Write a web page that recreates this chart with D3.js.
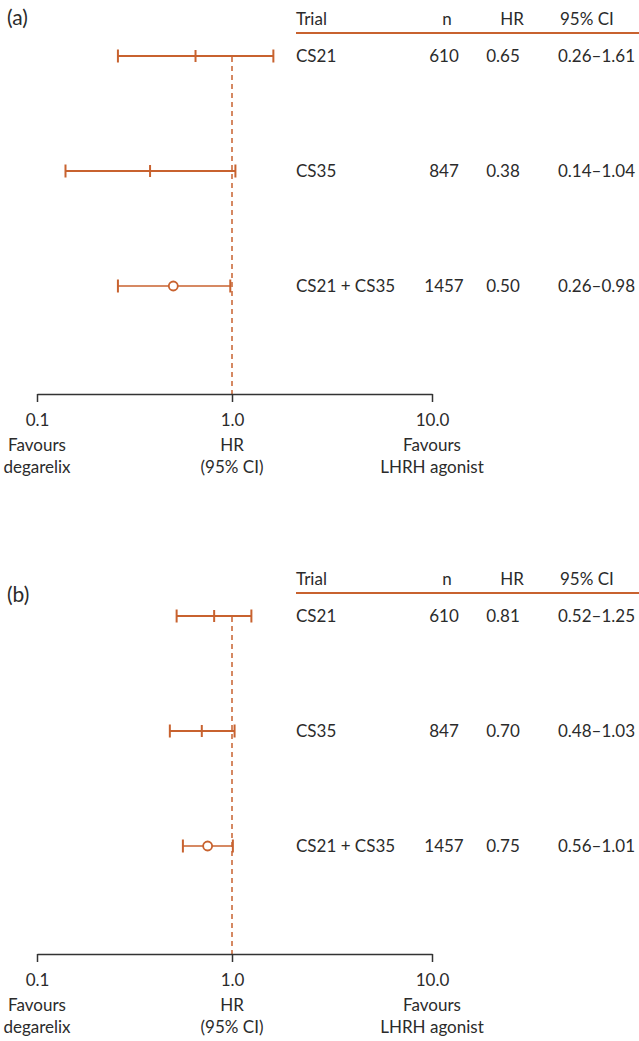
<!DOCTYPE html>
<html>
<head>
<meta charset="utf-8">
<script src="https://cdn.jsdelivr.net/npm/d3@7"></script>
<style>
  body { margin: 0; background: #fff; }
  svg text { font-family: Lato, "Open Sans", sans-serif; fill: #2b2b2b; }
</style>
</head>
<body>
<div id="main"></div>
<script>
// data
const panels = ['(a)', '(b)'];
const trials = ['CS21', 'CS35', 'CS21 + CS35'];
const nValues = [610, 847, 1457];
const pooled = [false, false, true];
const hrA = [0.65, 0.38, 0.50];
const lowA = [0.26, 0.14, 0.26];
const highA = [1.61, 1.04, 0.98];
const hrB = [0.81, 0.70, 0.75];
const lowB = [0.52, 0.48, 0.56];
const highB = [1.25, 1.03, 1.01];
const headers = ['Trial', 'n', 'HR', '95% CI'];
const tickValues = [0.1, 1, 10];
const axisNotes = [['Favours', 'degarelix'], ['HR', '(95% CI)'], ['Favours', 'LHRH agonist']];

const ORANGE = '#c8622f';
const WIDTH = 639;
const HEIGHT = 1041;
const PANEL_OFFSET = 560;
const FONT = '17px';

const svg = d3
  .select('div#main')
  .append('svg')
  .attr('width', WIDTH)
  .attr('height', HEIGHT);

// log scale, slightly stretched left of 1.0 like the original figure
const xScale = d3.scaleLog().domain([0.1, 1, 10]).range([37, 232, 432]);
const yScale = d3.scalePoint().domain(trials).range([56, 286]);
const AXIS_Y = 394;

const panelData = [
  trials.map((t, i) => ({ trial: t, n: nValues[i], hr: hrA[i], low: lowA[i], high: highA[i], pooled: pooled[i] })),
  trials.map((t, i) => ({ trial: t, n: nValues[i], hr: hrB[i], low: lowB[i], high: highB[i], pooled: pooled[i] })),
];

const renderPanel = (props) => {
  const { g, label, labelY, records } = props;

  g.append('text')
    .attr('x', 7)
    .attr('y', labelY)
    .attr('dy', '0.35em')
    .style('font-size', '21px')
    .text(label);

  // table header
  const headerY = 19;
  const headerX = [296, 447, 512, 560];
  const headerAnchor = ['start', 'middle', 'middle', 'start'];
  headers.forEach((h, i) => {
    g.append('text')
      .attr('x', headerX[i])
      .attr('y', headerY)
      .attr('dy', '0.35em')
      .attr('text-anchor', headerAnchor[i])
      .style('font-size', FONT)
      .text(h);
  });
  g.append('line')
    .attr('x1', 296)
    .attr('x2', WIDTH)
    .attr('y1', 33)
    .attr('y2', 33)
    .attr('stroke', ORANGE)
    .attr('stroke-width', 2);

  // table rows
  const rows = g.selectAll('.row').data(records).enter().append('g').attr('class', 'row');
  const fmt = d3.format('.2f');
  rows.append('text')
    .attr('x', 296).attr('y', (d) => yScale(d.trial)).attr('dy', '0.35em')
    .style('font-size', FONT)
    .text((d) => d.trial);
  rows.append('text')
    .attr('x', 444).attr('y', (d) => yScale(d.trial)).attr('dy', '0.35em')
    .attr('text-anchor', 'middle')
    .style('font-size', FONT)
    .text((d) => d.n);
  rows.append('text')
    .attr('x', 503).attr('y', (d) => yScale(d.trial)).attr('dy', '0.35em')
    .attr('text-anchor', 'middle')
    .style('font-size', FONT)
    .text((d) => fmt(d.hr));
  rows.append('text')
    .attr('x', 558).attr('y', (d) => yScale(d.trial)).attr('dy', '0.35em')
    .style('font-size', FONT)
    .text((d) => `${fmt(d.low)}–${fmt(d.high)}`);

  // reference line at HR = 1
  g.append('line')
    .attr('x1', xScale(1)).attr('x2', xScale(1))
    .attr('y1', yScale(trials[0]) + 1).attr('y2', AXIS_Y)
    .attr('stroke', ORANGE)
    .attr('stroke-width', 1.5)
    .attr('stroke-dasharray', '5,4');

  // x-axis
  const axisG = g.append('g').attr('transform', `translate(0,${AXIS_Y})`);
  axisG.call(
    d3.axisBottom(xScale)
      .tickValues(tickValues)
      .tickFormat(d3.format('.1f'))
      .tickSize(8)
      .tickSizeOuter(0)
      .tickPadding(12)
  );
  axisG.select('.domain').attr('stroke', '#333').attr('stroke-width', 1.5);
  axisG.selectAll('.tick line').attr('stroke', '#333').attr('stroke-width', 1.5);
  axisG.selectAll('.tick text')
    .style('font-size', FONT)
    .style('font-family', 'Lato, "Open Sans", sans-serif')
    .attr('fill', '#2b2b2b');

  tickValues.forEach((v, i) => {
    axisNotes[i].forEach((line, j) => {
      g.append('text')
        .attr('x', xScale(v))
        .attr('y', AXIS_Y + 51 + j * 22)
        .attr('dy', '0.35em')
        .attr('text-anchor', 'middle')
        .style('font-size', FONT)
        .text(line);
    });
  });

  // confidence intervals
  const ci = g.selectAll('.ci').data(records).enter().append('g').attr('class', 'ci');
  ci.append('line')
    .attr('x1', (d) => xScale(d.low)).attr('x2', (d) => xScale(d.high))
    .attr('y1', (d) => yScale(d.trial)).attr('y2', (d) => yScale(d.trial))
    .attr('stroke', ORANGE)
    .attr('stroke-width', (d) => (d.pooled ? 1.6 : 2));
  ['low', 'high'].forEach((k) => {
    ci.append('line')
      .attr('x1', (d) => xScale(d[k])).attr('x2', (d) => xScale(d[k]))
      .attr('y1', (d) => yScale(d.trial) - 6.5).attr('y2', (d) => yScale(d.trial) + 6.5)
      .attr('stroke', ORANGE)
      .attr('stroke-width', 2);
  });
  ci.filter((d) => !d.pooled)
    .append('line')
    .attr('x1', (d) => xScale(d.hr)).attr('x2', (d) => xScale(d.hr))
    .attr('y1', (d) => yScale(d.trial) - 6).attr('y2', (d) => yScale(d.trial) + 6)
    .attr('stroke', ORANGE)
    .attr('stroke-width', 2);
  ci.filter((d) => d.pooled)
    .append('circle')
    .attr('cx', (d) => xScale(d.hr))
    .attr('cy', (d) => yScale(d.trial))
    .attr('r', 4.5)
    .attr('fill', '#fff')
    .attr('stroke', ORANGE)
    .attr('stroke-width', 1.8);
};

renderPanel({ g: svg.append('g'), label: panels[0], labelY: 18, records: panelData[0] });
renderPanel({
  g: svg.append('g').attr('transform', `translate(0,${PANEL_OFFSET})`),
  label: panels[1],
  labelY: 35,
  records: panelData[1],
});
</script>
</body>
</html>
